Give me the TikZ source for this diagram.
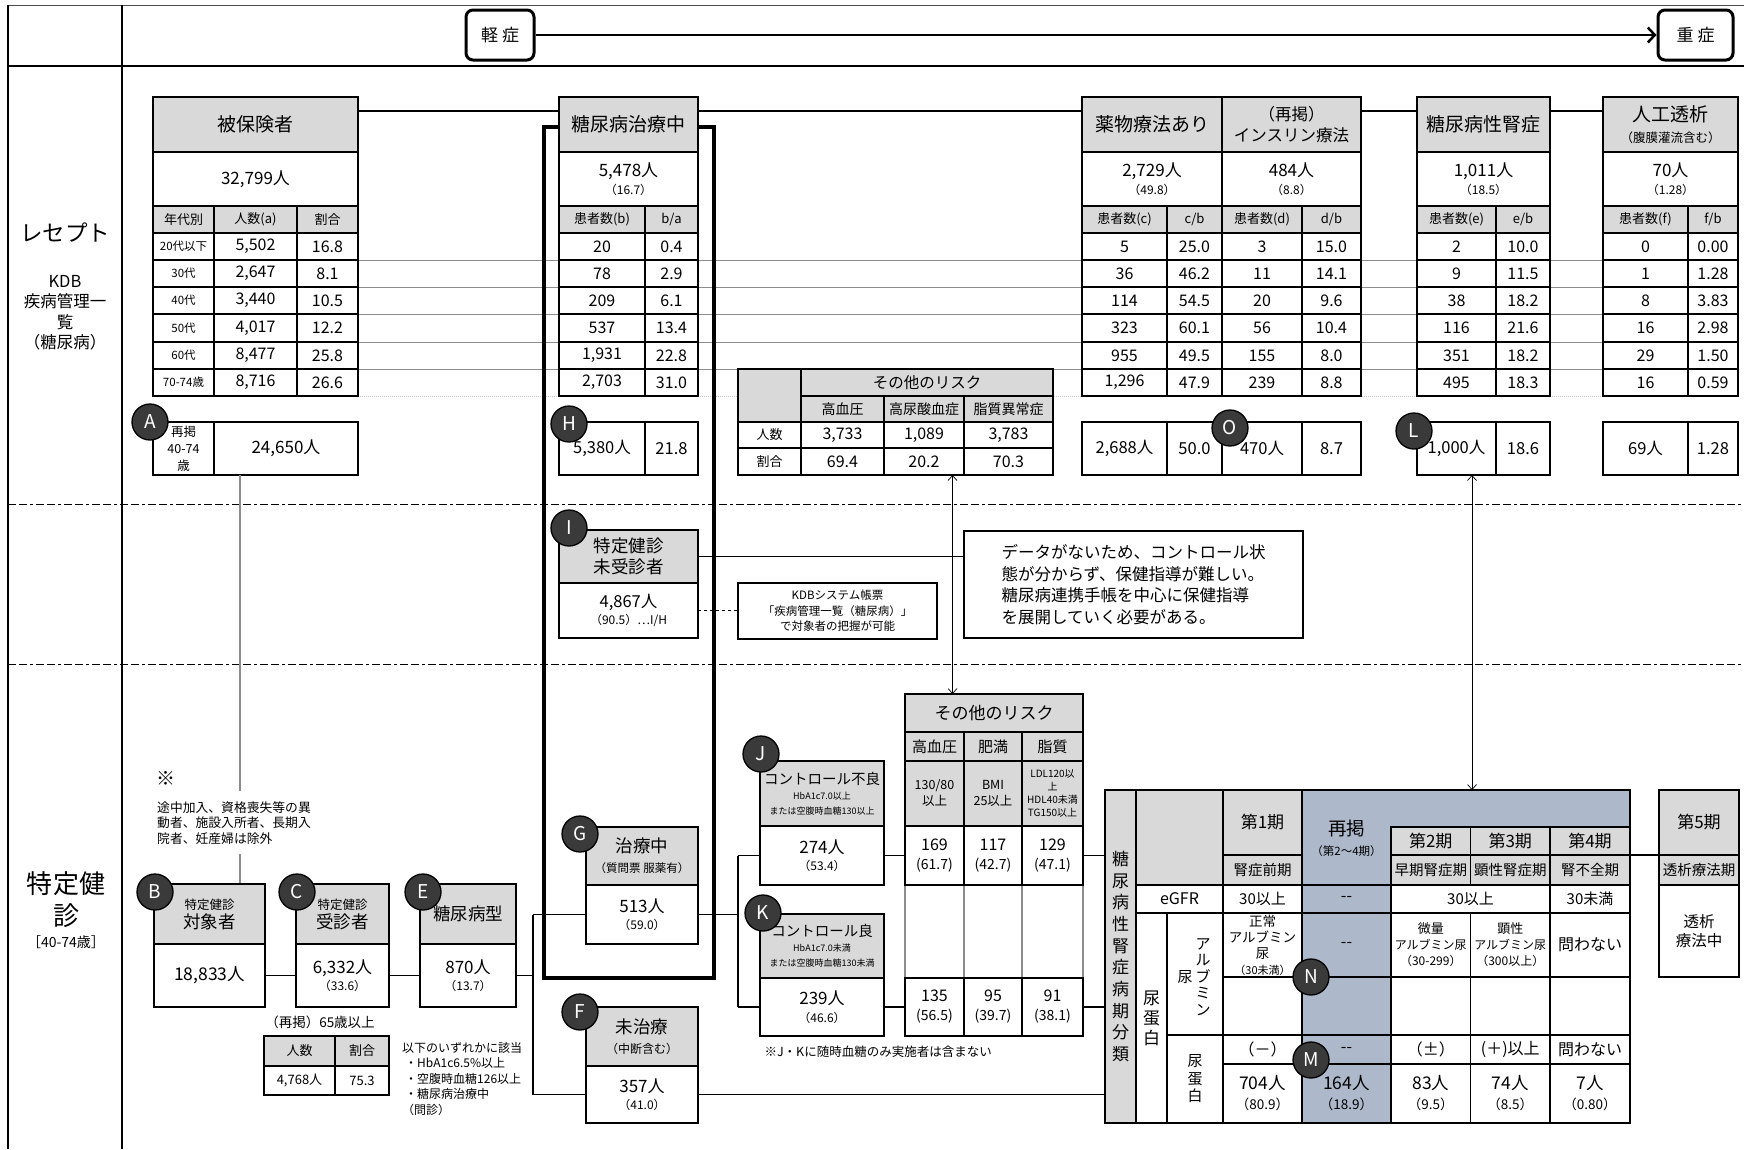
\documentclass[tikz,border=0pt]{standalone}
\usepackage{fontspec}
\setmainfont{Noto Sans CJK JP}
\usetikzlibrary{arrows.meta,calc}
\definecolor{hdrgray}{HTML}{D9D9D9}
\definecolor{blu}{HTML}{ADB9CA}
\definecolor{badgegray}{HTML}{3A3A3A}
\definecolor{linegray}{HTML}{8C8C8C}
\newcommand\myfs[2]{\fontsize{#1}{#2}\selectfont}
\newcommand\subl[1]{{\myfs{12}{13}#1}}
\newcommand\cellbox[7]{%
  \pgfmathsetmacro\cwd{#4-#2}\pgfmathsetmacro\cht{#5-#3}%
  \node[cell,#6,minimum width=\cwd pt,minimum height=\cht pt,anchor=north west] (#1) at (#2,#3) {#7};}
\newcommand\trow[8]{\cellbox{#1a}{#4}{#2}{#5}{#3}{}{#7}\cellbox{#1b}{#5}{#2}{#6}{#3}{}{#8}}
\tikzset{
  cell/.style={draw,line width=1.3pt,fill=white,inner sep=1pt,outer sep=0pt,align=center,font=\myfs{16}{17}},
  gcell/.style={fill=hdrgray},
  bcell/.style={fill=blu},
  thk/.style={line width=2.5pt},
  hdr/.style={font=\myfs{19}{21}},
  val/.style={font=\myfs{17}{17.5}},
  bot/.style={font=\myfs{16.5}{18}},
  sm/.style={font=\myfs{13}{15}},
  xs/.style={font=\myfs{11.5}{13}},
  badge/.style={circle,draw=black,line width=1.3pt,fill=badgegray,text=white,minimum size=36pt,inner sep=0pt,font=\myfs{19}{19}},
  conn/.style={line width=1.8pt},
  rowline/.style={line width=1pt,draw=linegray},
  biarrow/.style={line width=0.7pt,{Straight Barb[length=5pt,width=9pt]}-{Straight Barb[length=5pt,width=9pt]}},
  sevbox/.style={draw,line width=3pt,rounded corners=7pt,font=\myfs{17}{19},inner sep=0pt},
  secline/.style={line width=1pt,dash pattern=on 8pt off 3pt on 8pt off 3pt on 3pt off 3pt},
}
\begin{document}
\begin{tikzpicture}[x=1pt,y=-1pt]
\useasboundingbox (0,0) rectangle (1744,1149);
\fill[white] (0,0) rectangle (1744,1149);
% ---------- frame ----------
\draw[line width=1pt,draw=black!70] (8,5) -- (1744,5);
\draw[line width=1.5pt] (8,66) -- (1744,66);
\draw[line width=2pt] (8,5) -- (8,1149);
\draw[line width=2pt] (122,5) -- (122,1149);
\draw[secline] (8,504) -- (1744,504);
\draw[secline] (8,664) -- (1744,664);
% ---------- severity ----------
\node[sevbox,minimum width=68pt,minimum height=50pt] (mild) at (500,35) {軽\hspace{4pt}症};
\node[sevbox,minimum width=75pt,minimum height=50pt] (sevr) at (1695.5,35) {重\hspace{4pt}症};
\draw[line width=2.5pt,-{Straight Barb[length=7pt,width=15pt]}] (mild.east) -- (sevr.west);
% ---------- left labels ----------
\node[font=\myfs{22.5}{24}] (lblR) at (65,233) {レセプト};
\node[font=\myfs{16.5}{20.5},align=center] (lblK) at (65,312.5) {KDB\\疾病管理一\\覧\\（糖尿病）};
\node[font=\myfs{26}{32},align=center] (lblT) at (66,900) {特定健\\診};
\node[font=\myfs{14}{16}] (lblA) at (66,942) {［40-74歳］};
% ---------- row lines ----------
\foreach \yy in {260,287,314,342,369} {\draw[rowline] (358,\yy) -- (1603,\yy);}
\draw[rowline,draw=linegray!50,densely dotted] (358,396) -- (1603,396);
% ---------- treatment frame ----------
\draw[line width=3.5pt] (544,127) rectangle (714,978);
% ---------- 被保険者 ----------
\cellbox{hk}{153}{97}{358}{152}{gcell,thk,hdr}{被保険者}
\cellbox{hkv}{153}{152}{358}{206}{thk,val}{32,799人}
\cellbox{hkc0}{153}{206}{214}{233}{gcell,sm}{年代別}
\cellbox{hkc1}{214}{206}{297}{233}{gcell,sm}{人数(a)}
\cellbox{hkc2}{297}{206}{358}{233}{gcell,sm}{割合}
\cellbox{hkl1}{153}{233}{214}{260}{xs}{20代以下}
\cellbox{hkl2}{153}{260}{214}{287}{xs}{30代}
\cellbox{hkl3}{153}{287}{214}{314}{xs}{40代}
\cellbox{hkl4}{153}{314}{214}{342}{xs}{50代}
\cellbox{hkl5}{153}{342}{214}{369}{xs}{60代}
\cellbox{hkl6}{153}{369}{214}{396}{xs}{70-74歳}
\trow{hkr1}{233}{260}{214}{297}{358}{5,502}{16.8}
\trow{hkr2}{260}{287}{214}{297}{358}{2,647}{8.1}
\trow{hkr3}{287}{314}{214}{297}{358}{3,440}{10.5}
\trow{hkr4}{314}{342}{214}{297}{358}{4,017}{12.2}
\trow{hkr5}{342}{369}{214}{297}{358}{8,477}{25.8}
\trow{hkr6}{369}{396}{214}{297}{358}{8,716}{26.6}
\draw[thk] (hk.north west) rectangle (hkr6b.south east);
\draw[thk] (hkl3.north west) rectangle (hkr6b.south east);
\cellbox{a1}{153}{422}{214}{475}{font=\myfs{12.5}{17}}{再掲\\40-74\\歳}
\cellbox{a2}{214}{422}{358}{475}{font=\myfs{17}{19}}{24,650人}
% ---------- 糖尿病治療中 ----------
\cellbox{tr}{559}{97}{698}{152}{gcell,thk,hdr}{糖尿病治療中}
\cellbox{trv}{559}{152}{698}{206}{thk,val}{5,478人\\\subl{（16.7）}}
\cellbox{trc1}{559}{206}{645}{233}{gcell,sm}{患者数(b)}
\cellbox{trc2}{645}{206}{698}{233}{gcell,sm}{b/a}
\trow{tr1}{233}{260}{559}{645}{698}{20}{0.4}
\trow{tr2}{260}{287}{559}{645}{698}{78}{2.9}
\trow{tr3}{287}{314}{559}{645}{698}{209}{6.1}
\trow{tr4}{314}{342}{559}{645}{698}{537}{13.4}
\trow{tr5}{342}{369}{559}{645}{698}{1,931}{22.8}
\trow{tr6}{369}{396}{559}{645}{698}{2,703}{31.0}
\draw[thk] (tr.north west) rectangle (tr6b.south east);
\draw[thk] (tr3a.north west) rectangle (tr6b.south east);
\cellbox{h1}{559}{422}{645}{475}{bot}{5,380人}
\cellbox{h2}{645}{422}{698}{475}{bot}{21.8}
% ---------- 薬物療法 / インスリン ----------
\cellbox{yk}{1082}{97}{1222}{152}{gcell,thk,hdr}{薬物療法あり}
\cellbox{in}{1222}{97}{1361}{152}{gcell,thk,font=\myfs{16.5}{20.5}}{（再掲）\\インスリン療法}
\cellbox{ykv}{1082}{152}{1222}{206}{thk,val}{2,729人\\\subl{（49.8）}}
\cellbox{inv}{1222}{152}{1361}{206}{thk,val}{484人\\\subl{（8.8）}}
\cellbox{ykc1}{1082}{206}{1167}{233}{gcell,sm}{患者数(c)}
\cellbox{ykc2}{1167}{206}{1222}{233}{gcell,sm}{c/b}
\cellbox{inc1}{1222}{206}{1302}{233}{gcell,sm}{患者数(d)}
\cellbox{inc2}{1302}{206}{1361}{233}{gcell,sm}{d/b}
\trow{yk1}{233}{260}{1082}{1167}{1222}{5}{25.0}
\trow{yk2}{260}{287}{1082}{1167}{1222}{36}{46.2}
\trow{yk3}{287}{314}{1082}{1167}{1222}{114}{54.5}
\trow{yk4}{314}{342}{1082}{1167}{1222}{323}{60.1}
\trow{yk5}{342}{369}{1082}{1167}{1222}{955}{49.5}
\trow{yk6}{369}{396}{1082}{1167}{1222}{1,296}{47.9}
\trow{in1}{233}{260}{1222}{1302}{1361}{3}{15.0}
\trow{in2}{260}{287}{1222}{1302}{1361}{11}{14.1}
\trow{in3}{287}{314}{1222}{1302}{1361}{20}{9.6}
\trow{in4}{314}{342}{1222}{1302}{1361}{56}{10.4}
\trow{in5}{342}{369}{1222}{1302}{1361}{155}{8.0}
\trow{in6}{369}{396}{1222}{1302}{1361}{239}{8.8}
\draw[thk] (yk.north west) rectangle (in6b.south east);
\draw[thk] (yk3a.north west) rectangle (in6b.south east);
\draw[thk] (in.north west) -- (in6a.south west);
\cellbox{ykb1}{1082}{422}{1167}{475}{bot}{2,688人}
\cellbox{ykb2}{1167}{422}{1222}{475}{bot}{50.0}
\cellbox{inb1}{1222}{422}{1302}{475}{bot}{470人}
\cellbox{inb2}{1302}{422}{1361}{475}{bot}{8.7}
\draw[thk] (inb1.north west) -- (inb1.south west);
% ---------- 糖尿病性腎症 ----------
\cellbox{jn}{1417}{97}{1550}{152}{gcell,thk,hdr}{糖尿病性腎症}
\cellbox{jnv}{1417}{152}{1550}{206}{thk,val}{1,011人\\\subl{（18.5）}}
\cellbox{jnc1}{1417}{206}{1496}{233}{gcell,sm}{患者数(e)}
\cellbox{jnc2}{1496}{206}{1550}{233}{gcell,sm}{e/b}
\trow{jn1}{233}{260}{1417}{1496}{1550}{2}{10.0}
\trow{jn2}{260}{287}{1417}{1496}{1550}{9}{11.5}
\trow{jn3}{287}{314}{1417}{1496}{1550}{38}{18.2}
\trow{jn4}{314}{342}{1417}{1496}{1550}{116}{21.6}
\trow{jn5}{342}{369}{1417}{1496}{1550}{351}{18.2}
\trow{jn6}{369}{396}{1417}{1496}{1550}{495}{18.3}
\draw[thk] (jn.north west) rectangle (jn6b.south east);
\draw[thk] (jn3a.north west) rectangle (jn6b.south east);
\cellbox{jnb1}{1417}{422}{1496}{475}{bot}{1,000人}
\cellbox{jnb2}{1496}{422}{1550}{475}{bot}{18.6}
% ---------- 人工透析 ----------
\cellbox{jt}{1603}{97}{1738}{152}{gcell,thk,hdr}{人工透析\\{\myfs{12.5}{14}（腹膜灌流含む）}}
\cellbox{jtv}{1603}{152}{1738}{206}{thk,val}{70人\\\subl{（1.28）}}
\cellbox{jtc1}{1603}{206}{1688}{233}{gcell,sm}{患者数(f)}
\cellbox{jtc2}{1688}{206}{1738}{233}{gcell,sm}{f/b}
\trow{jt1}{233}{260}{1603}{1688}{1738}{0}{0.00}
\trow{jt2}{260}{287}{1603}{1688}{1738}{1}{1.28}
\trow{jt3}{287}{314}{1603}{1688}{1738}{8}{3.83}
\trow{jt4}{314}{342}{1603}{1688}{1738}{16}{2.98}
\trow{jt5}{342}{369}{1603}{1688}{1738}{29}{1.50}
\trow{jt6}{369}{396}{1603}{1688}{1738}{16}{0.59}
\draw[thk] (jt.north west) rectangle (jt6b.south east);
\draw[thk] (jt3a.north west) rectangle (jt6b.south east);
\cellbox{jtb1}{1603}{422}{1688}{475}{bot}{69人}
\cellbox{jtb2}{1688}{422}{1738}{475}{bot}{1.28}
% header connectors
\draw[conn] ([yshift=13.5pt]hk.east) -- ([yshift=13.5pt]tr.west);
\draw[conn] ([yshift=13.5pt]tr.east) -- ([yshift=13.5pt]yk.west);
\draw[conn] ([yshift=13.5pt]in.east) -- ([yshift=13.5pt]jn.west);
\draw[conn] ([yshift=13.5pt]jn.east) -- ([yshift=13.5pt]jt.west);
% ---------- その他のリスク (top) ----------
\cellbox{rt0}{738}{369}{801}{422}{gcell}{}
\cellbox{rth}{801}{369}{1053}{396}{gcell,font=\myfs{15.5}{17}}{その他のリスク}
\cellbox{rt1}{801}{396}{884}{422}{gcell,font=\myfs{14}{16}}{高血圧}
\cellbox{rt2}{884}{396}{964}{422}{gcell,font=\myfs{14}{16}}{高尿酸血症}
\cellbox{rt3}{964}{396}{1053}{422}{gcell,font=\myfs{14}{16}}{脂質異常症}
\cellbox{rtl1}{738}{422}{801}{448}{sm}{人数}
\cellbox{rta1}{801}{422}{884}{448}{}{3,733}
\cellbox{rta2}{884}{422}{964}{448}{}{1,089}
\cellbox{rta3}{964}{422}{1053}{448}{}{3,783}
\cellbox{rtl2}{738}{448}{801}{475}{sm}{割合}
\cellbox{rtb1}{801}{448}{884}{475}{}{69.4}
\cellbox{rtb2}{884}{448}{964}{475}{}{20.2}
\cellbox{rtb3}{964}{448}{1053}{475}{}{70.3}
% ---------- I ----------
\cellbox{ih}{559}{530}{698}{583}{gcell,thk,font=\myfs{17.5}{21}}{特定健診\\未受診者}
\cellbox{iv}{559}{583}{698}{638}{font=\myfs{16.5}{17.5}}{4,867人\\\subl{（90.5）…I/H}}
\cellbox{cmt}{964}{531}{1303}{638}{align=left,line width=1.2pt,font=\myfs{16.5}{21.5}}{データがないため、コントロール状\\態が分からず、保健指導が難しい。\\糖尿病連携手帳を中心に保健指導\\を展開していく必要がある。}
\cellbox{kdb}{738}{583}{937}{639}{line width=1.3pt,font=\myfs{11.5}{15.5}}{KDBシステム帳票\\「疾病管理一覧（糖尿病）」\\で対象者の把握が可能}
\draw[conn] (ih.east) -- (ih.east -| cmt.west);
\draw[line width=0.9pt,dashed] (iv.east) -- (iv.east -| kdb.west);
% ---------- B C E ----------
\coordinate (avx) at (240,0);
\draw[draw=linegray,line width=2pt] (a2.south -| avx) -- (240,884);
\node[fill=white,inner xsep=4pt,inner ysep=10pt,anchor=north west,align=left,font=\myfs{12.8}{15.5}] (note) at (153,791) {途中加入、資格喪失等の異\\動者、施設入所者、長期入\\院者、妊産婦は除外};
\node[font=\myfs{19}{20}] (kome) at (166,778) {※};
\cellbox{bh}{154}{884}{265}{944}{gcell,thk,font=\myfs{17.5}{19}}{{\myfs{12.5}{14}特定健診}\\対象者}
\cellbox{bv}{154}{944}{265}{1007}{line width=1.5pt,font=\myfs{17.5}{19}}{18,833人}
\cellbox{ch}{296}{884}{389}{944}{gcell,thk,font=\myfs{17.5}{19}}{{\myfs{12.5}{14}特定健診}\\受診者}
\cellbox{cv}{296}{944}{389}{1007}{line width=1.5pt,val}{6,332人\\\subl{（33.6）}}
\cellbox{eh}{420}{884}{516}{944}{gcell,thk,font=\myfs{17.5}{19}}{糖尿病型}
\cellbox{ev}{420}{944}{516}{1007}{line width=1.5pt,val}{870人\\\subl{（13.7）}}
\draw[conn] (bv.east) -- (cv.west);
\draw[conn] (cv.east) -- (ev.west);
\node[font=\myfs{13.5}{15}] (r65) at (320,1022) {（再掲）65歳以上};
\cellbox{s1}{264}{1036}{335}{1066}{gcell,sm,line width=1.5pt}{人数}
\cellbox{s2}{335}{1036}{389}{1066}{gcell,sm,line width=1.5pt}{割合}
\cellbox{s3}{264}{1066}{335}{1095}{font=\myfs{13}{15}}{4,768人}
\cellbox{s4}{335}{1066}{389}{1095}{font=\myfs{13}{15}}{75.3}
\node[anchor=north west,align=left,font=\myfs{12}{15.5},inner sep=0pt] (crit) at (402,1042) {以下のいずれかに該当\\\hspace{3pt}・HbA1c6.5\%以上\\\hspace{3pt}・空腹時血糖126以上\\\hspace{3pt}・糖尿病治療中\\（問診）};
% ---------- G F ----------
\cellbox{gh}{586}{827}{698}{885}{gcell,thk,font=\myfs{17.5}{20}}{治療中\\{\myfs{11.5}{13}（質問票 服薬有）}}
\cellbox{gv}{586}{885}{698}{944}{val}{513人\\\subl{（59.0）}}
\cellbox{fh}{586}{1007}{698}{1066}{gcell,thk,font=\myfs{17.5}{20}}{未治療\\{\myfs{12}{13}（中断含む）}}
\cellbox{fv}{586}{1066}{698}{1123}{val}{357人\\\subl{（41.0）}}
\coordinate (jx) at (533,0);
\draw[conn] (ev.east) -- (ev.east -| jx);
\draw[conn] (gv.west -| jx) -- (fv.west -| jx);
\draw[conn] (gv.west -| jx) -- (gv.west);
\draw[conn] (fv.west -| jx) -- (fv.west);
% ---------- J K ----------
\cellbox{jh}{760}{761}{884}{826}{gcell,thk,font=\myfs{14.5}{15}}{コントロール不良\\{\myfs{9}{12}HbA1c7.0以上}\\{\myfs{9}{12}または空腹時血糖130以上}}
\cellbox{jv}{760}{826}{884}{885}{val}{274人\\\subl{（53.4）}}
\cellbox{kh}{760}{914}{884}{978}{gcell,thk,font=\myfs{14.5}{15}}{コントロール良\\{\myfs{9}{12}HbA1c7.0未満}\\{\myfs{9}{12}または空腹時血糖130未満}}
\cellbox{kv}{760}{978}{884}{1036}{val}{239人\\\subl{（46.6）}}
\coordinate (kx) at (738,0);
\draw[conn] (gv.east) -- (gv.east -| kx);
\draw[conn] (jv.west -| kx) -- (kv.west -| kx);
\draw[conn] (jv.west -| kx) -- (jv.west);
\draw[conn] (kv.west -| kx) -- (kv.west);
\node[anchor=west,font=\myfs{12.5}{14}] (jknote) at (761,1052) {※J・Kに随時血糖のみ実施者は含まない};
% ---------- その他のリスク (lower) ----------
\cellbox{lrh}{905}{694}{1083}{732}{gcell,font=\myfs{17}{19}}{その他のリスク}
\cellbox{lr1}{905}{732}{964}{761}{gcell,font=\myfs{15}{17}}{高血圧}
\cellbox{lr2}{964}{732}{1022}{761}{gcell,font=\myfs{15}{17}}{肥満}
\cellbox{lr3}{1022}{732}{1083}{761}{gcell,font=\myfs{15}{17}}{脂質}
\cellbox{lc1}{905}{761}{964}{826}{gcell,font=\myfs{12.5}{16}}{130/80\\以上}
\cellbox{lc2}{964}{761}{1022}{826}{gcell,font=\myfs{12.5}{16}}{BMI\\25以上}
\cellbox{lc3}{1022}{761}{1083}{826}{gcell,font=\myfs{10}{13.2}}{LDL120以\\上\\HDL40未満\\TG150以上}
\cellbox{lj1}{905}{826}{964}{885}{font=\myfs{16}{19}}{169\\{\myfs{14}{15}(61.7)}}
\cellbox{lj2}{964}{826}{1022}{885}{font=\myfs{16}{19}}{117\\{\myfs{14}{15}(42.7)}}
\cellbox{lj3}{1022}{826}{1083}{885}{font=\myfs{16}{19}}{129\\{\myfs{14}{15}(47.1)}}
\cellbox{le1}{905}{885}{964}{978}{draw=linegray}{}
\cellbox{le2}{964}{885}{1022}{978}{draw=linegray}{}
\cellbox{le3}{1022}{885}{1083}{978}{draw=linegray}{}
\cellbox{lk1}{905}{978}{964}{1036}{font=\myfs{16}{19}}{135\\{\myfs{14}{15}(56.5)}}
\cellbox{lk2}{964}{978}{1022}{1036}{font=\myfs{16}{19}}{95\\{\myfs{14}{15}(39.7)}}
\cellbox{lk3}{1022}{978}{1083}{1036}{font=\myfs{16}{19}}{91\\{\myfs{14}{15}(38.1)}}
\draw[line width=2pt] (lrh.north west) rectangle (lj3.south east);
\draw[line width=2pt] (lk1.north west) rectangle (lk3.south east);
\draw[conn] (jv.east) -- (lj1.west);
\draw[conn] (kv.east) -- (lk1.west);
% ---------- kidney table ----------
\cellbox{kl}{1105}{790}{1136}{1123}{gcell,font=\myfs{17}{21.7}}{糖\\尿\\病\\性\\腎\\症\\病\\期\\分\\類}
\cellbox{ktl}{1136}{790}{1223}{885}{gcell}{}
\cellbox{k1h}{1223}{790}{1302}{855}{gcell,font=\myfs{17}{18}}{第1期}
\cellbox{k1s}{1223}{855}{1302}{885}{gcell,font=\myfs{14.5}{16}}{腎症前期}
\filldraw[fill=blu,line width=1.3pt] (1302,790) -- (1630,790) -- (1630,827) -- (1391,827) -- (1391,885) -- (1302,885) -- cycle;
\node[font=\myfs{18.5}{20},align=center] (kre) at (1346.5,838) {再掲\\{\myfs{11.5}{13}（第2～4期）}};
\cellbox{k2h}{1391}{827}{1470.5}{855}{gcell,font=\myfs{17}{18}}{第2期}
\cellbox{k3h}{1470.5}{827}{1550}{855}{gcell,font=\myfs{17}{18}}{第3期}
\cellbox{k4h}{1550}{827}{1630}{855}{gcell,font=\myfs{17}{18}}{第4期}
\cellbox{k2s}{1391}{855}{1470.5}{885}{gcell,font=\myfs{14.5}{16}}{早期腎症期}
\cellbox{k3s}{1470.5}{855}{1550}{885}{gcell,font=\myfs{14.5}{16}}{顕性腎症期}
\cellbox{k4s}{1550}{855}{1630}{885}{gcell,font=\myfs{14.5}{16}}{腎不全期}
\cellbox{keg}{1136}{885}{1223}{913}{}{eGFR}
\cellbox{keg1}{1223}{885}{1302}{913}{font=\myfs{15}{16}}{30以上}
\cellbox{kegr}{1302}{885}{1391}{913}{bcell}{-{}-}
\cellbox{keg23}{1391}{885}{1550}{913}{font=\myfs{15}{16}}{30以上}
\cellbox{keg4}{1550}{885}{1630}{913}{font=\myfs{15}{16}}{30未満}
\cellbox{kup}{1136}{913}{1167}{1123}{font=\myfs{17}{20}}{尿\\蛋\\白}
\cellbox{kal}{1167}{913}{1223}{1035}{}{}
\node[font=\myfs{15}{16.5},align=center] (kalA) at (1203,977) {ア\\ル\\ブ\\ミ\\ン};
\node[font=\myfs{15}{16.5}] (kalB) at (1185,977) {尿};
\cellbox{kup2}{1167}{1035}{1223}{1123}{font=\myfs{15}{17.5}}{尿\\蛋\\白}
\cellbox{ka1}{1223}{913}{1302}{977}{font=\myfs{13.5}{16}}{正常\\アルブミン\\尿\\{\myfs{11}{12}（30未満）}}
\cellbox{kar}{1302}{913}{1391}{977}{bcell}{-{}-}
\cellbox{ka2}{1391}{913}{1470.5}{977}{font=\myfs{12}{16}}{{\myfs{13}{14}微量}\\アルブミン尿\\（30-299）}
\cellbox{ka3}{1470.5}{913}{1550}{977}{font=\myfs{12}{16}}{{\myfs{13}{14}顕性}\\アルブミン尿\\（300以上）}
\cellbox{ka4}{1550}{913}{1630}{977}{}{問わない}
\cellbox{ke1}{1223}{977}{1302}{1035}{}{}
\cellbox{ker}{1302}{977}{1391}{1035}{bcell}{}
\cellbox{ke2}{1391}{977}{1470.5}{1035}{}{}
\cellbox{ke3}{1470.5}{977}{1550}{1035}{}{}
\cellbox{ke4}{1550}{977}{1630}{1035}{}{}
\cellbox{kp1}{1223}{1035}{1302}{1064}{}{（－）}
\cellbox{kpr}{1302}{1035}{1391}{1064}{bcell}{-{}-}
\cellbox{kp2}{1391}{1035}{1470.5}{1064}{}{（±）}
\cellbox{kp3}{1470.5}{1035}{1550}{1064}{}{(＋)以上}
\cellbox{kp4}{1550}{1035}{1630}{1064}{}{問わない}
\cellbox{kn1}{1223}{1064}{1302}{1123}{font=\myfs{17.5}{20}}{704人\\{\myfs{13.5}{14}（80.9）}}
\cellbox{knr}{1302}{1064}{1391}{1123}{bcell,font=\myfs{17.5}{20}}{164人\\{\myfs{13.5}{14}（18.9）}}
\cellbox{kn2}{1391}{1064}{1470.5}{1123}{font=\myfs{17.5}{20}}{83人\\{\myfs{13.5}{14}（9.5）}}
\cellbox{kn3}{1470.5}{1064}{1550}{1123}{font=\myfs{17.5}{20}}{74人\\{\myfs{13.5}{14}（8.5）}}
\cellbox{kn4}{1550}{1064}{1630}{1123}{font=\myfs{17.5}{20}}{7人\\{\myfs{13.5}{14}（0.80）}}
\draw[line width=2pt] (kl.north west) rectangle (kn4.south east);
% 第5期
\cellbox{k5a}{1659}{790}{1739}{855}{gcell,font=\myfs{17}{18}}{第5期}
\cellbox{k5b}{1659}{855}{1739}{885}{gcell,font=\myfs{14.5}{16}}{透析療法期}
\cellbox{k5c}{1659}{885}{1739}{977}{font=\myfs{15.5}{19}}{透析\\療法中}
\draw[line width=2pt] (k5a.north west) rectangle (k5c.south east);
\draw[conn] (k4h.south east) -- (k5a.south west);
% connectors into kidney table
\draw[conn] (lj3.east) -- (lj3.east -| kl.west);
\draw[conn] (lk3.east) -- (lk3.east -| kl.west);
\draw[conn] (fv.east) -- (fv.east -| kl.west);
% ---------- arrows ----------
\coordinate (ar1) at (952.5,0);
\coordinate (ar2) at (1472,0);
\draw[biarrow] (rtb2.south -| ar1) -- (lrh.north -| ar1);
\draw[biarrow] (jnb1.south -| ar2) -- (kl.north -| ar2);
% ---------- badges ----------
\node[badge] (bA) at (150,422) {A};
\node[badge] (bH) at (569,424) {H};
\node[badge] (bO) at (1230,428) {O};
\node[badge] (bL) at (1414,431) {L};
\node[badge] (bI) at (569,528) {I};
\node[badge] (bB) at (155,892) {B};
\node[badge] (bC) at (297,892) {C};
\node[badge] (bE) at (423,892) {E};
\node[badge] (bG) at (580,834) {G};
\node[badge] (bF) at (580,1012) {F};
\node[badge] (bJ) at (761,754) {J};
\node[badge] (bK) at (763,913) {K};
\node[badge] (bN) at (1311,977) {N};
\node[badge] (bM) at (1311,1060) {M};
\end{tikzpicture}
\end{document}
